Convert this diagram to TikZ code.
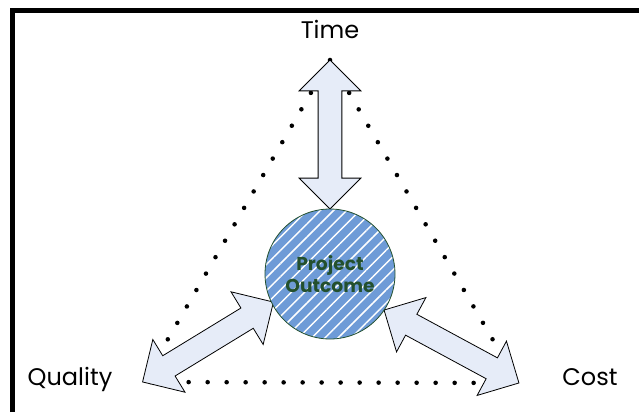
\documentclass[tikz,border=0pt]{standalone}
\usepackage{fontspec}
\setmainfont{Poppins}
\usetikzlibrary{shapes.arrows,patterns.meta}

\definecolor{arrowfill}{RGB}{230,236,248}
\definecolor{outcomeblue}{RGB}{110,155,215}
\definecolor{outcomegreen}{RGB}{35,80,45}

\begin{document}
\begin{tikzpicture}[
    x=0.75pt,y=-0.75pt,
    corner/.style={font=\fontsize{18}{21}\selectfont,inner sep=0pt},
    link/.style={double arrow,draw,fill=arrowfill,line width=0.6pt,
                 inner sep=0pt,inner ysep=8.6pt,
                 double arrow head extend=14.25pt,minimum height=115pt},
    outcome/.style={circle,draw=outcomegreen,line width=0.6pt,
                    minimum size=97.5pt,inner sep=0pt,align=center,
                    font=\bfseries\fontsize{14}{16.5}\selectfont,text=outcomegreen,
                    preaction={fill=outcomeblue},
                    pattern={Lines[angle=45,distance=7pt,line width=1.1pt]},
                    pattern color=white},
    dots/.style={line width=3.4pt,line cap=round,dash pattern=on 0pt off 14.25pt},
]
\useasboundingbox (0,0) rectangle (639,412);

% ---- Frame ---------------------------------------------------------------
\draw[line width=3.75pt] (12.5,412) -- (12.5,10.5) -- (639,10.5);

% ---- Corners -------------------------------------------------------------
\coordinate (apex) at (330,60);
\coordinate (qtip) at (143,382);
\coordinate (ctip) at (518,383);
\node[corner,anchor=base] (time)    at (330,38)  {Time};
\node[corner,anchor=base] (quality) at (70,385)  {Quality};
\node[corner,anchor=base] (cost)    at (590,385) {Cost};

% ---- Dotted triangle -----------------------------------------------------
\draw[dots] (apex) -- (qtip) -- (ctip) -- cycle;

% ---- Arrows --------------------------------------------------------------
\node[link,minimum height=111.75pt,rotate=90] (atime) at (330,134.5) {};
\node[link,rotate=31.4]  (aqual) at (208,342) {};
\node[link,rotate=-28.4] (acost) at (451.5,346.5) {};

% ---- Outcome -------------------------------------------------------------
\node[outcome] (po) at (330,274) {Project\\Outcome};

\end{tikzpicture}
\end{document}
